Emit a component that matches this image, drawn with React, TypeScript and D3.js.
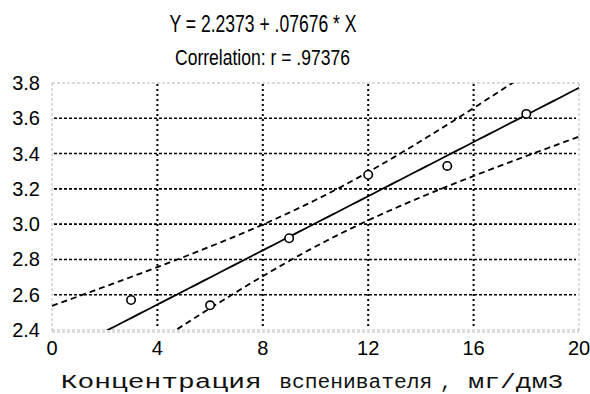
import React from 'react';
import * as d3 from 'd3';

const xValues = [3, 6, 9, 12, 15, 18];
const yValues = [2.57, 2.54, 2.92, 3.28, 3.33, 3.625];
const xTicks = [0, 4, 8, 12, 16, 20];
const yTicks = [2.4, 2.6, 2.8, 3.0, 3.2, 3.4, 3.6, 3.8];
const INTERCEPT = 2.2373;
const SLOPE = 0.07676;
const T_CRIT = 2.776; // t(0.975), df = n - 2 = 4
const titleLines = ['Y = 2.2373 + .07676 * X', 'Correlation: r = .97376'];
const xTitleParts = ['Концентрация', 'вспенивателя', ',', 'мг/дм3'];

export default function App() {
  const W = 590, H = 394;
  const left = 52, right = 579, top = 83, bottom = 330;
  const x = d3.scaleLinear().domain([0, 20]).range([left, right]);
  const y = d3.scaleLinear().domain([2.4, 3.8]).range([bottom, top]);

  const n = xValues.length;
  const mx = d3.mean(xValues) as number;
  const sxx = d3.sum(xValues, (v) => (v - mx) ** 2);
  const sse = d3.sum(xValues, (v, i) => (yValues[i] - (INTERCEPT + SLOPE * v)) ** 2);
  const s = Math.sqrt(sse / (n - 2));
  const fit = (v: number) => INTERCEPT + SLOPE * v;
  const half = (v: number) => T_CRIT * s * Math.sqrt(1 / n + (v - mx) ** 2 / sxx);
  const grid = d3.range(0, 20.0001, 0.2);

  const line = d3
    .line<number>()
    .x((v) => x(v))
    .y((v) => y(fit(v)));
  const upper = d3
    .line<number>()
    .x((v) => x(v))
    .y((v) => y(fit(v) + half(v)))
    .curve(d3.curveMonotoneX);
  const lower = d3
    .line<number>()
    .x((v) => x(v))
    .y((v) => y(fit(v) - half(v)))
    .curve(d3.curveMonotoneX);

  const sans = 'Liberation Sans, Arial, sans-serif';
  const mono = 'Liberation Mono, Courier New, monospace';

  return (
    <div style={{ position: 'absolute', left: 0, top: 0 }}>
      <svg width={W} height={H} style={{ display: 'block', background: '#fff' }}>
        <defs>
          <clipPath id="plotclip">
            <rect x={left} y={top} width={right - left} height={bottom - top} />
          </clipPath>
        </defs>
        <rect x={0} y={0} width={W} height={H} fill="#fff" />

        {/* titles */}
        <text x={263} y={31.5} textAnchor="middle" fontFamily={sans} fontSize={23}
          textLength={187} lengthAdjust="spacingAndGlyphs" fill="#000">{titleLines[0]}</text>
        <text x={262.5} y={65} textAnchor="middle" fontFamily={sans} fontSize={22}
          textLength={175} lengthAdjust="spacingAndGlyphs" fill="#000">{titleLines[1]}</text>

        {/* plot border */}
        <g stroke="#b8b8b8" strokeWidth={1} fill="none" strokeDasharray="3,2">
          <line x1={left} x2={right} y1={top} y2={top} />
          <line x1={left} x2={left} y1={top} y2={bottom + 2} />
          <line x1={right} x2={right} y1={top} y2={bottom + 2} />
          <line x1={left} x2={right} y1={bottom} y2={bottom} />
          <line x1={left} x2={right} y1={bottom + 2} y2={bottom + 2} />
        </g>

        {/* grid */}
        <g stroke="#000" fill="none">
          {yTicks.slice(1, -1).map((t) => (
            <line key={'h' + t} x1={x(0) + 2} x2={x(20) - 3} y1={y(t)} y2={y(t)}
              strokeWidth={1.6} strokeDasharray="3,2" />
          ))}
          {xTicks.slice(1, -1).map((t) => (
            <line key={'v' + t} x1={x(t)} x2={x(t)} y1={y(3.8) + 1} y2={y(2.4) - 1}
              strokeWidth={2} strokeDasharray="2,3" />
          ))}
        </g>

        {/* regression + confidence bands */}
        <g clipPath="url(#plotclip)" fill="none" stroke="#000">
          <path d={line(grid) || ''} strokeWidth={1.8} />
          <path d={upper(grid) || ''} strokeWidth={1.8} strokeDasharray="6,4" />
          <path d={lower(grid) || ''} strokeWidth={1.8} strokeDasharray="6,4" />
        </g>

        {/* points */}
        <g>
          {xValues.map((v, i) => (
            <circle key={i} cx={x(v)} cy={y(yValues[i])} r={4.2} fill="#fff" stroke="#000" strokeWidth={1.6} />
          ))}
        </g>

        {/* y tick labels */}
        <g fontFamily={sans} fontSize={20} fill="#000" textAnchor="end">
          {yTicks.map((t) => (
            <text key={t} x={40} y={y(t) + 7}>{d3.format('.1f')(t)}</text>
          ))}
        </g>
        {/* x tick labels */}
        <g fontFamily={sans} fontSize={20} fill="#000" textAnchor="middle">
          {xTicks.map((t) => (
            <text key={t} x={x(t)} y={355}>{t}</text>
          ))}
        </g>

        {/* x axis title */}
        <g fontFamily={mono} fontSize={20} fill="#111">
          <text x={60.7} y={388} textLength={201} lengthAdjust="spacingAndGlyphs">{xTitleParts[0]}</text>
          <text x={279.3} y={388} textLength={153} lengthAdjust="spacingAndGlyphs">{xTitleParts[1]}</text>
          <text x={446} y={388} textAnchor="middle">{xTitleParts[2]}</text>
          <text x={468.3} y={388} textLength={95} lengthAdjust="spacingAndGlyphs">{xTitleParts[3]}</text>
        </g>
      </svg>
    </div>
  );
}
